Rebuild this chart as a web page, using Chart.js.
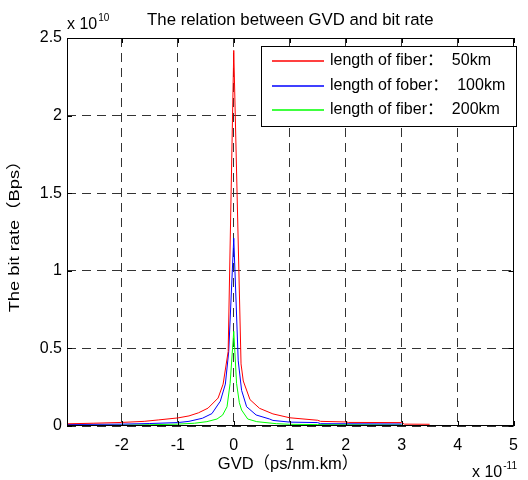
<!DOCTYPE html>
<html><head><meta charset="utf-8">
<script src="https://cdn.jsdelivr.net/npm/chart.js@4.4.0/dist/chart.umd.min.js"></script>
<style>html,body{margin:0;padding:0;background:#fff;overflow:hidden}#wrap{width:528px;height:480px}</style>
</head><body><div id="wrap"><canvas id="c" width="528" height="480"></canvas></div>
<script>
// x in units of 1e-11 ps/nm.km, y in units of 1e10 Bps
const seriesNames = ['length of fiber：  50km', 'length of fober：  100km', 'length of fiber：  200km'];
const seriesColors = ['#ff0000', '#0000ff', '#00ff00'];

const redX = [-2.98, -2.5, -2.0, -1.6, -1.35, -1.0, -0.8, -0.63, -0.46, -0.28, -0.19, -0.1, 0, 0.13, 0.17, 0.29, 0.46, 0.7, 1.0, 1.5, 1.55, 2.0, 2.05, 3.0, 3.05, 3.5];
const redY = [0.014, 0.018, 0.023, 0.03, 0.039, 0.052, 0.065, 0.085, 0.115, 0.18, 0.27, 0.48, 2.42, 0.40, 0.29, 0.17, 0.114, 0.078, 0.053, 0.037, 0.03, 0.026, 0.023, 0.022, 0.012, 0.011];

const blueX = [-2.98, -2.0, -1.5, -1.0, -0.8, -0.56, -0.39, -0.24, -0.15, -0.09, 0, 0.08, 0.14, 0.23, 0.4, 0.64, 0.7, 1.0, 1.5, 1.55, 3.0];
const blueY = [0.01, 0.012, 0.016, 0.022, 0.03, 0.05, 0.08, 0.16, 0.27, 0.48, 1.21, 0.42, 0.23, 0.124, 0.071, 0.045, 0.036, 0.025, 0.022, 0.015, 0.013];

const greenX = [-2.98, -2.0, -1.5, -1.0, -0.7, -0.48, -0.3, -0.2, -0.12, -0.065, 0, 0.05, 0.1, 0.14, 0.25, 0.41, 0.76, 1.0, 1.5, 3.0];
const greenY = [0.005, 0.006, 0.008, 0.012, 0.018, 0.028, 0.045, 0.07, 0.124, 0.275, 0.61, 0.275, 0.15, 0.103, 0.045, 0.028, 0.015, 0.011, 0.009, 0.007];

const xTicks = [-2, -1, 0, 1, 2, 3, 4, 5];
const yTicks = [0, 0.5, 1, 1.5, 2, 2.5];
const xRange = [-2.98, 5];
const yRange = [0, 2.5];

const titleText = 'The relation between GVD and bit rate';
const xTitle = 'GVD（ps/nm.km）';
const yTitle = 'The bit rate（Bps）';
const xExp = '-11';
const yExp = '10';

const FONT = '"Liberation Sans", Arial, "Noto Sans CJK SC", sans-serif';

function pts(xs, ys) { return xs.map((x, i) => ({x: x, y: ys[i]})); }

const decorPlugin = {
  id: 'decor',
  afterDraw(chart) {
    const ctx = chart.ctx;
    const a = chart.chartArea;
    const xs = chart.scales.x, ys = chart.scales.y;
    ctx.save();
    // axes box
    ctx.strokeStyle = '#000';
    ctx.lineWidth = 1;
    ctx.setLineDash([]);
    ctx.strokeRect(Math.round(a.left) + 0.5, Math.round(a.top) + 0.5, Math.round(a.right - a.left) - 1, Math.round(a.bottom - a.top) - 1);
    // inner tick marks
    const tl = 5;
    ctx.beginPath();
    xs.ticks.forEach(t => {
      const px = Math.round(xs.getPixelForValue(t.value)) + 0.5;
      ctx.moveTo(px, a.bottom); ctx.lineTo(px, a.bottom - tl);
      ctx.moveTo(px, a.top); ctx.lineTo(px, a.top + tl);
    });
    ys.ticks.forEach(t => {
      const py = Math.round(ys.getPixelForValue(t.value)) + 0.5;
      ctx.moveTo(a.left, py); ctx.lineTo(a.left + tl, py);
      ctx.moveTo(a.right, py); ctx.lineTo(a.right - tl, py);
    });
    ctx.stroke();

    ctx.fillStyle = '#000';
    // title
    ctx.font = '16.8px ' + FONT;
    ctx.textAlign = 'center';
    ctx.textBaseline = 'alphabetic';
    ctx.fillText(titleText, (a.left + a.right) / 2, 25);

    // y multiplier
    ctx.textAlign = 'left';
    ctx.font = '16px ' + FONT;
    ctx.fillText('x 10', a.left, 29);
    const w1 = ctx.measureText('x 10').width;
    ctx.font = '10px ' + FONT;
    ctx.fillText(yExp, a.left + w1 + 1, 21);

    // x multiplier
    ctx.font = '16px ' + FONT;
    ctx.fillText('x 10', 472, 477);
    const w2 = ctx.measureText('x 10').width;
    ctx.font = '10px ' + FONT;
    ctx.fillText(xExp, 472 + w2 + 1, 469);

    // axis titles
    ctx.font = '16.5px ' + FONT;
    ctx.textAlign = 'center';
    ctx.textBaseline = 'middle';
    ctx.fillText(xTitle, 288, 464);
    ctx.save();
    ctx.font = '15px ' + FONT;
    ctx.translate(15, (a.top + a.bottom) / 2);
    ctx.rotate(-Math.PI / 2);
    ctx.scale(1.22, 1);
    ctx.fillText(yTitle, 0, 0);
    ctx.restore();

    // legend
    const lx = 261, ly = 46, lw = 255, lh = 80;
    ctx.fillStyle = '#fff';
    ctx.fillRect(lx, ly, lw, lh);
    ctx.strokeStyle = '#000';
    ctx.lineWidth = 1;
    ctx.strokeRect(lx + 0.5, ly + 0.5, lw, lh);
    ctx.font = '16px ' + FONT;
    ctx.textAlign = 'left';
    ctx.textBaseline = 'middle';
    chart.data.datasets.forEach((ds, i) => {
      const cy = Math.round(ly + 15 + i * 24.5);
      ctx.strokeStyle = seriesColors[i];
      ctx.lineWidth = 1.3;
      ctx.beginPath();
      ctx.moveTo(272, cy);
      ctx.lineTo(324, cy);
      ctx.stroke();
      ctx.fillStyle = '#000';
      ctx.fillText(seriesNames[i], 330, cy);
    });
    ctx.restore();
  }
};

new Chart(document.getElementById('c'), {
  type: 'line',
  data: {
    datasets: [
      {label: seriesNames[0], data: pts(redX, redY), borderColor: seriesColors[0]},
      {label: seriesNames[1], data: pts(blueX, blueY), borderColor: seriesColors[1]},
      {label: seriesNames[2], data: pts(greenX, greenY), borderColor: seriesColors[2]}
    ]
  },
  options: {
    responsive: false,
    animation: false,
    devicePixelRatio: 1,
    layout: {padding: {left: 0, top: 38, right: 8, bottom: 0}},
    elements: {
      line: {borderWidth: 1, tension: 0, fill: false},
      point: {radius: 0, hoverRadius: 0}
    },
    plugins: {legend: {display: false}, title: {display: false}, tooltip: {enabled: false}},
    scales: {
      x: {
        type: 'linear',
        min: xRange[0], max: xRange[1],
        bounds: 'data',
        afterBuildTicks: s => { s.ticks = xTicks.map(v => ({value: v})); },
        afterFit: s => { s.height = 54; },
        ticks: {
          color: '#000', font: {family: FONT, size: 16}, padding: 10, maxRotation: 0,
          callback: v => String(v)
        },
        grid: {color: '#333', lineWidth: 1, drawTicks: false},
        border: {display: false, dash: [9, 6]}
      },
      y: {
        type: 'linear',
        min: yRange[0], max: yRange[1],
        bounds: 'data',
        afterBuildTicks: s => { s.ticks = yTicks.map(v => ({value: v})); },
        afterFit: s => { s.width = 67; },
        ticks: {
          color: '#000', font: {family: FONT, size: 16}, padding: 5,
          callback: v => String(v)
        },
        grid: {color: '#333', lineWidth: 1, drawTicks: false},
        border: {display: false, dash: [9, 6]}
      }
    }
  },
  plugins: [decorPlugin]
});
</script>
</body></html>
